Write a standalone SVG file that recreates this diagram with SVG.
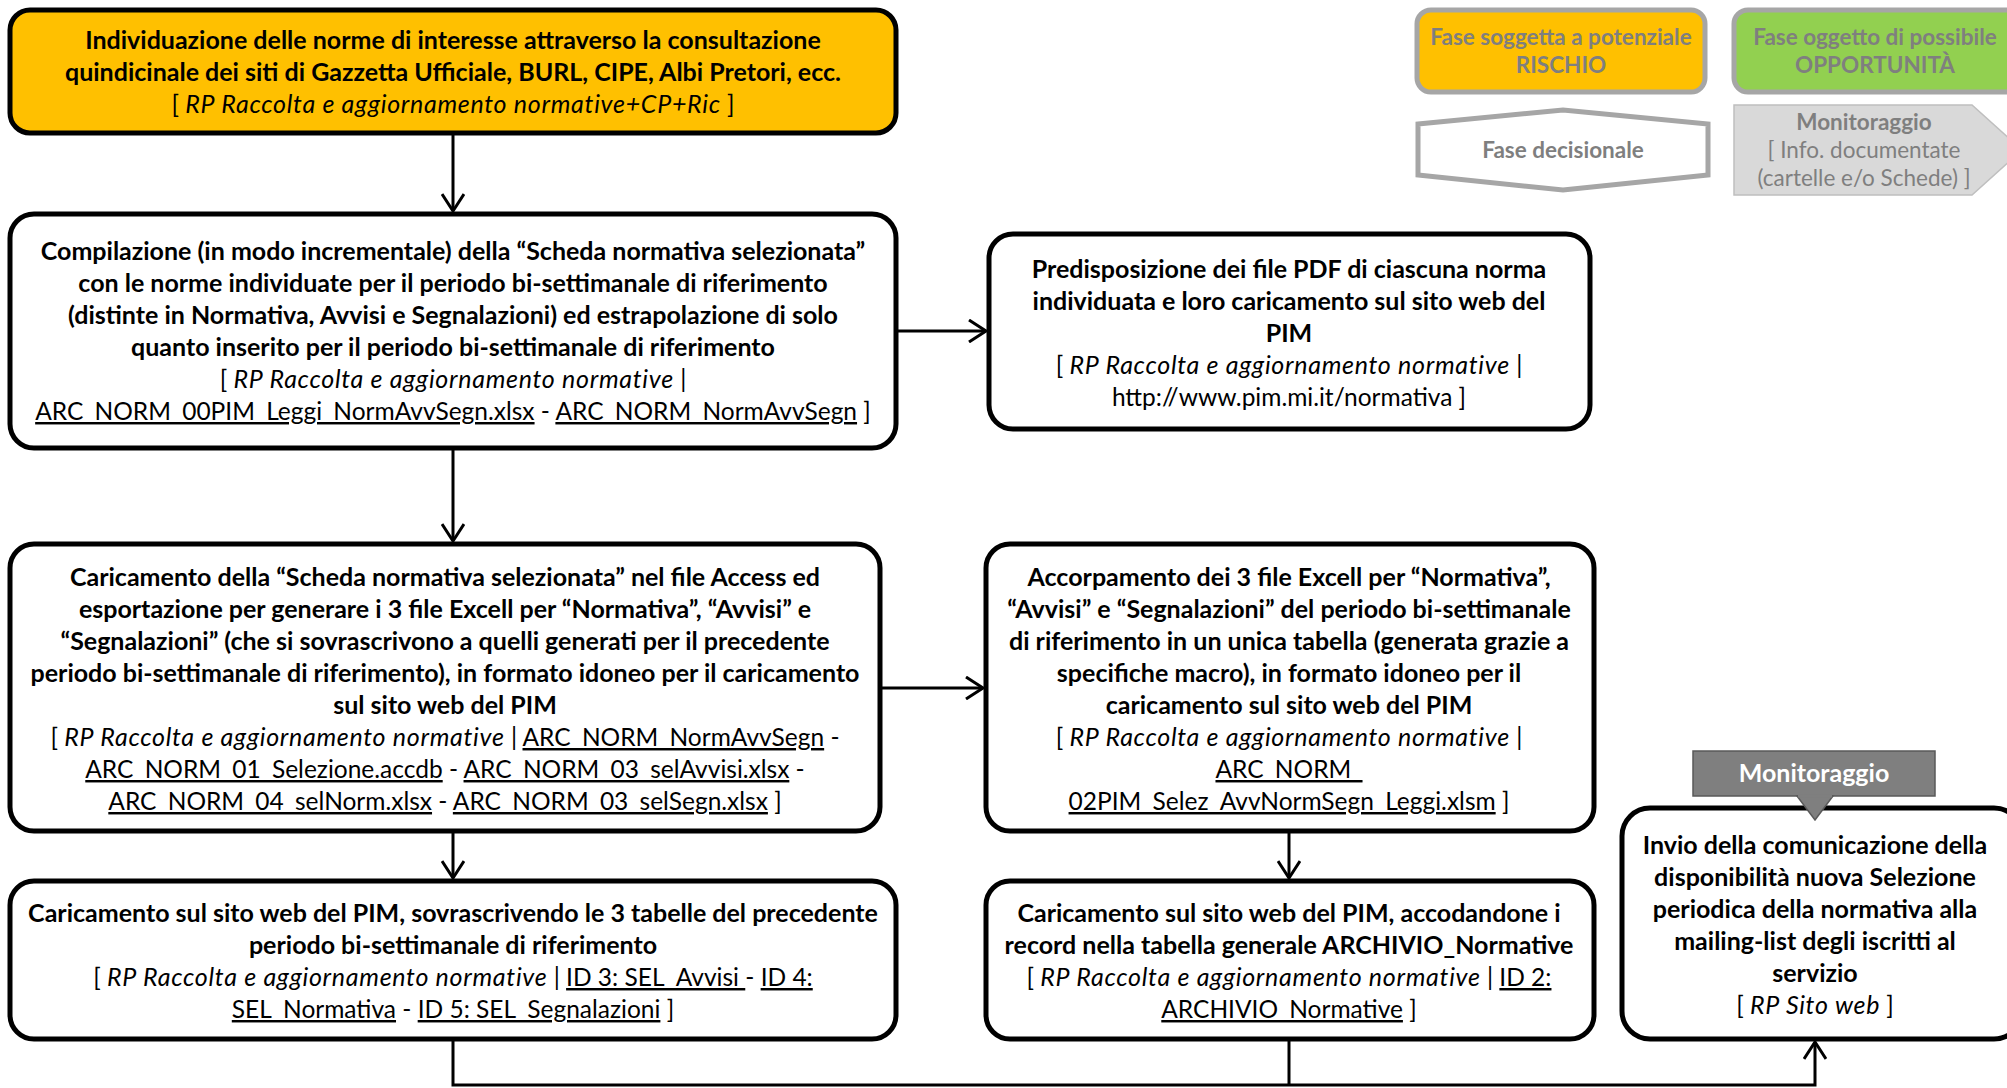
<svg xmlns="http://www.w3.org/2000/svg" width="2007" height="1088" viewBox="0 0 2007 1088">
  <defs>
    <style>
      .box{fill:#fff;stroke:#000;stroke-width:5}
      .risk{fill:#FFC000;stroke:#000;stroke-width:5}
      .t{font-family:Lato,"Liberation Sans",sans-serif;font-size:24.5px;text-anchor:middle;fill:#000}
      .b{font-weight:bold;font-size:25px}
      .i{font-style:italic;font-size:25px;letter-spacing:0.7px}
      .u{text-decoration:underline}
      .conn{fill:none;stroke:#000;stroke-width:3}
      .leg{stroke:#A6A6A6;stroke-width:5}
      .lt{font-family:Lato,"Liberation Sans",sans-serif;font-size:22.5px;text-anchor:middle;fill:#7F7F7F}
    </style>
    <marker id="arr" viewBox="0 0 20 24" refX="18" refY="12" markerWidth="20" markerHeight="24" markerUnits="userSpaceOnUse" orient="auto">
      <path d="M1,1 L18,12 L1,23" fill="none" stroke="#000" stroke-width="3"/>
    </marker>
  </defs>
  <rect width="2007" height="1088" fill="#fff"/>

  <!-- Legend -->
  <g id="legend">
    <rect class="leg" x="1417" y="10" width="288" height="82" rx="14" fill="#FFC000"/>
    <text class="lt b" x="1561" y="45" style="font-size:22.5px">Fase soggetta a potenziale</text>
    <text class="lt b" x="1561" y="73" style="font-size:22.5px">RISCHIO</text>
    <rect class="leg" x="1734" y="10" width="300" height="82" rx="14" fill="#92D050"/>
    <text class="lt b" x="1875" y="45" style="font-size:22.5px">Fase oggetto di possibile</text>
    <text class="lt b" x="1875" y="73" style="font-size:22.5px">OPPORTUNITÀ</text>
    <polygon class="leg" points="1418,124 1563,110 1708,124 1708,175 1563,190 1418,175" fill="#fff"/>
    <text class="lt b" x="1563" y="158" style="font-size:22.5px">Fase decisionale</text>
    <polygon points="1734,105 1972,105 2022,150 1972,195 1734,195" fill="#D9D9D9" stroke="#BFBFBF" stroke-width="1.5"/>
    <text class="lt b" x="1864" y="130" style="font-size:22.5px">Monitoraggio</text>
    <text class="lt" x="1864" y="158">[ Info. documentate</text>
    <text class="lt" x="1864" y="186">(cartelle e/o Schede) ]</text>
  </g>

  <!-- Connectors -->
  <g id="connectors">
    <path class="conn" d="M453,135 V211" marker-end="url(#arr)"/>
    <path class="conn" d="M898,331 H986" marker-end="url(#arr)"/>
    <path class="conn" d="M453,450 V541" marker-end="url(#arr)"/>
    <path class="conn" d="M880,688 H983" marker-end="url(#arr)"/>
    <path class="conn" d="M453,833 V878" marker-end="url(#arr)"/>
    <path class="conn" d="M1289,833 V878" marker-end="url(#arr)"/>
    <path class="conn" d="M453,1041 V1085 H1815 V1042" marker-end="url(#arr)"/>
    <path class="conn" d="M1289,1041 V1085"/>
  </g>

  <!-- Step 1 -->
  <g id="n1">
    <rect class="risk" x="10" y="10" width="886" height="123" rx="20"/>
    <text class="t b" x="453" y="49">Individuazione delle norme di interesse attraverso la consultazione</text>
    <text class="t b" x="453" y="81">quindicinale dei siti di Gazzetta Ufficiale, BURL, CIPE, Albi Pretori, ecc.</text>
    <text class="t" x="453" y="113">[ <tspan class="i">RP Raccolta e aggiornamento normative+CP+Ric</tspan> ]</text>
  </g>

  <!-- Step 2 -->
  <g id="n2">
    <rect class="box" x="10" y="214" width="886" height="234" rx="24"/>
    <text class="t b" x="453" y="260">Compilazione (in modo incrementale) della “Scheda normativa selezionata”</text>
    <text class="t b" x="453" y="292">con le norme individuate per il periodo bi-settimanale di riferimento</text>
    <text class="t b" x="453" y="324">(distinte in Normativa, Avvisi e Segnalazioni) ed estrapolazione di solo</text>
    <text class="t b" x="453" y="356">quanto inserito per il periodo bi-settimanale di riferimento</text>
    <text class="t" x="453" y="388">[ <tspan class="i">RP Raccolta e aggiornamento normative</tspan> |</text>
    <text class="t" x="453" y="420"><tspan class="u">ARC_NORM_00PIM_Leggi_NormAvvSegn.xlsx</tspan> - <tspan class="u">ARC_NORM_NormAvvSegn</tspan> ]</text>
  </g>

  <!-- Step 3 -->
  <g id="n3">
    <rect class="box" x="989" y="234" width="601" height="195" rx="24"/>
    <text class="t b" x="1289" y="278">Predisposizione dei file PDF di ciascuna norma</text>
    <text class="t b" x="1289" y="310">individuata e loro caricamento sul sito web del</text>
    <text class="t b" x="1289" y="342">PIM</text>
    <text class="t" x="1289" y="374">[ <tspan class="i">RP Raccolta e aggiornamento normative</tspan> |</text>
    <text class="t" x="1289" y="406">http://www.pim.mi.it/normativa ]</text>
  </g>

  <!-- Step 4 -->
  <g id="n4">
    <rect class="box" x="10" y="544" width="870" height="287" rx="24"/>
    <text class="t b" x="445" y="586">Caricamento della “Scheda normativa selezionata” nel file Access ed</text>
    <text class="t b" x="445" y="618">esportazione per generare i 3 file Excell per “Normativa”, “Avvisi” e</text>
    <text class="t b" x="445" y="650">“Segnalazioni” (che si sovrascrivono a quelli generati per il precedente</text>
    <text class="t b" x="445" y="682">periodo bi-settimanale di riferimento), in formato idoneo per il caricamento</text>
    <text class="t b" x="445" y="714">sul sito web del PIM</text>
    <text class="t" x="445" y="746">[ <tspan class="i">RP Raccolta e aggiornamento normative</tspan> | <tspan class="u">ARC_NORM_NormAvvSegn</tspan> -</text>
    <text class="t" x="445" y="778"><tspan class="u">ARC_NORM_01_Selezione.accdb</tspan> - <tspan class="u">ARC_NORM_03_selAvvisi.xlsx</tspan> -</text>
    <text class="t" x="445" y="810"><tspan class="u">ARC_NORM_04_selNorm.xlsx</tspan> - <tspan class="u">ARC_NORM_03_selSegn.xlsx</tspan> ]</text>
  </g>

  <!-- Step 5 -->
  <g id="n5">
    <rect class="box" x="986" y="544" width="608" height="287" rx="24"/>
    <text class="t b" x="1289" y="586">Accorpamento dei 3 file Excell per “Normativa”,</text>
    <text class="t b" x="1289" y="618">“Avvisi” e “Segnalazioni” del periodo bi-settimanale</text>
    <text class="t b" x="1289" y="650">di riferimento in un unica tabella (generata grazie a</text>
    <text class="t b" x="1289" y="682">specifiche macro), in formato idoneo per il</text>
    <text class="t b" x="1289" y="714">caricamento sul sito web del PIM</text>
    <text class="t" x="1289" y="746">[ <tspan class="i">RP Raccolta e aggiornamento normative</tspan> |</text>
    <text class="t" x="1289" y="778"><tspan class="u">ARC_NORM_</tspan></text>
    <text class="t" x="1289" y="810"><tspan class="u">02PIM_Selez_AvvNormSegn_Leggi.xlsm</tspan> ]</text>
  </g>

  <!-- Step 6 -->
  <g id="n6">
    <rect class="box" x="10" y="881" width="886" height="158" rx="24"/>
    <text class="t b" x="453" y="922">Caricamento sul sito web del PIM, sovrascrivendo le 3 tabelle del precedente</text>
    <text class="t b" x="453" y="954">periodo bi-settimanale di riferimento</text>
    <text class="t" x="453" y="986">[ <tspan class="i">RP Raccolta e aggiornamento normative</tspan> | <tspan class="u">ID 3: SEL_Avvisi </tspan>- <tspan class="u">ID 4:</tspan></text>
    <text class="t" x="453" y="1018"><tspan class="u">SEL_Normativa</tspan> - <tspan class="u">ID 5: SEL_Segnalazioni</tspan> ]</text>
  </g>

  <!-- Step 7 -->
  <g id="n7">
    <rect class="box" x="986" y="881" width="608" height="158" rx="24"/>
    <text class="t b" x="1289" y="922">Caricamento sul sito web del PIM, accodandone i</text>
    <text class="t b" x="1289" y="954">record nella tabella generale ARCHIVIO_Normative</text>
    <text class="t" x="1289" y="986">[ <tspan class="i">RP Raccolta e aggiornamento normative</tspan> | <tspan class="u">ID 2:</tspan></text>
    <text class="t" x="1289" y="1018"><tspan class="u">ARCHIVIO_Normative</tspan> ]</text>
  </g>

  <!-- Step 8 with monitoring tag -->
  <g id="n8">
    <rect class="box" x="1622" y="808" width="400" height="231" rx="28"/>
    <text class="t b" x="1815" y="854">Invio della comunicazione della</text>
    <text class="t b" x="1815" y="886">disponibilità nuova Selezione</text>
    <text class="t b" x="1815" y="918">periodica della normativa alla</text>
    <text class="t b" x="1815" y="950">mailing-list degli iscritti al</text>
    <text class="t b" x="1815" y="982">servizio</text>
    <text class="t" x="1815" y="1014">[ <tspan class="i">RP Sito web</tspan> ]</text>
  </g>
  <g id="monitoraggio">
    <rect x="1693" y="751" width="242" height="45" fill="#7F7F7F" stroke="#595959" stroke-width="1.5"/>
    <polygon points="1797,796 1833,796 1815,820" fill="#7F7F7F" stroke="#595959" stroke-width="1.5"/>
    <line x1="1798" y1="796" x2="1832" y2="796" stroke="#7F7F7F" stroke-width="3"/>
    <text x="1814" y="782" font-family="Lato,'Liberation Sans',sans-serif" font-size="25" font-weight="bold" fill="#fff" text-anchor="middle">Monitoraggio</text>
  </g>
</svg>
